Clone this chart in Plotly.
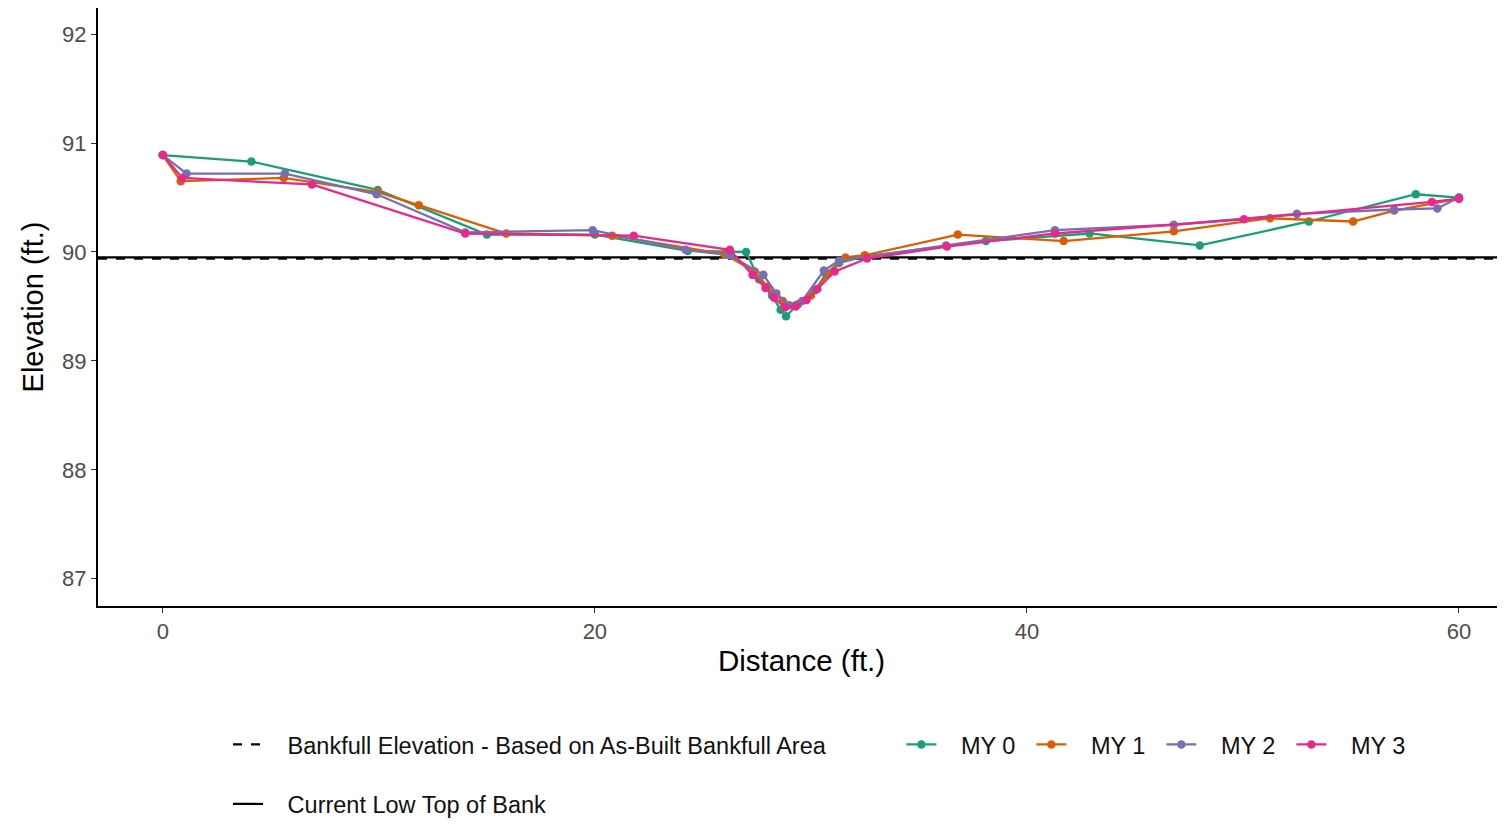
import plotly.graph_objects as go

# ---- data ----
my0_x = [0, 4.1, 9.95, 15.0, 20.0, 24.3, 27.0, 27.6, 28.2, 28.6, 28.85, 29.4, 30.2, 30.7, 31.3, 32.5, 38.1, 42.9, 48.0, 53.05, 58.0, 60.0]
my0_y = [90.89, 90.83, 90.57, 90.16, 90.16, 90.01, 90.0, 89.75, 89.6, 89.47, 89.41, 89.52, 89.65, 89.8, 89.9, 89.96, 90.1, 90.17, 90.06, 90.28, 90.53, 90.50]

my1_x = [0, 0.83, 5.6, 9.95, 11.85, 15.9, 20.8, 26.0, 27.4, 28.0, 28.7, 29.3, 30.0, 30.8, 31.6, 32.5, 36.8, 41.7, 46.8, 51.25, 55.1, 57.0, 60.0]
my1_y = [90.89, 90.65, 90.68, 90.55, 90.43, 90.17, 90.15, 89.98, 89.82, 89.68, 89.55, 89.51, 89.6, 89.8, 89.95, 89.97, 90.16, 90.10, 90.19, 90.31, 90.28, 90.38, 90.49]

my2_x = [0, 1.1, 5.65, 9.9, 14.0, 19.9, 24.2, 26.25, 27.8, 28.4, 29.0, 29.6, 30.6, 31.3, 36.25, 41.3, 46.8, 52.5, 57.0, 59.0, 60.0]
my2_y = [90.89, 90.72, 90.72, 90.53, 90.18, 90.20, 90.02, 89.97, 89.79, 89.62, 89.51, 89.55, 89.83, 89.92, 90.06, 90.20, 90.25, 90.35, 90.39, 90.40, 90.50]

my3_x = [0, 0.9, 6.9, 14.0, 21.8, 26.25, 27.3, 27.9, 28.3, 28.8, 29.3, 29.8, 30.3, 31.1, 32.6, 36.3, 41.3, 50.05, 58.75, 60.0]
my3_y = [90.89, 90.68, 90.62, 90.17, 90.15, 90.02, 89.79, 89.67, 89.58, 89.49, 89.50, 89.56, 89.66, 89.82, 89.94, 90.05, 90.17, 90.30, 90.46, 90.49]

bankfull_elev = [89.94, 89.94]
low_top_bank = [89.95, 89.95]
x_range = [-3.0, 62.13]
y_range = [86.75, 92.24]
x_ticks = [0, 20, 40, 60]
y_ticks = [87, 88, 89, 90, 91, 92]

series = [
    ("MY 0", my0_x, my0_y, "#1B9E77"),
    ("MY 1", my1_x, my1_y, "#D95F02"),
    ("MY 2", my2_x, my2_y, "#7570B3"),
    ("MY 3", my3_x, my3_y, "#E7298A"),
]

NB = "\u00a0\u00a0\u00a0"

fig = go.Figure()

fig.add_trace(go.Scatter(
    x=x_range, y=bankfull_elev, mode="lines",
    line=dict(color="black", width=2.2, dash="dash"),
    name=NB + "Bankfull Elevation - Based on As-Built Bankfull Area",
    legend="legend", legendgroup="a", showlegend=True, hoverinfo="skip"))
fig.add_trace(go.Scatter(
    x=x_range, y=low_top_bank, mode="lines",
    line=dict(color="black", width=2.2),
    name=NB + "Current Low Top of Bank",
    legend="legend", legendgroup="b", showlegend=True, hoverinfo="skip"))

for name, xs, ys, col in series:
    fig.add_trace(go.Scatter(
        x=xs, y=ys, mode="lines+markers", name=NB + name,
        line=dict(color=col, width=2.3),
        marker=dict(color=col, size=8.5),
        legend="legend2"))

font_family = "Liberation Sans, Arial, sans-serif"

fig.update_layout(
    width=1497, height=816,
    margin=dict(l=90, r=0, t=0, b=218, autoexpand=False),
    paper_bgcolor="white", plot_bgcolor="white",
    font=dict(family=font_family, color="#111111"),
    xaxis=dict(
        range=x_range, tickvals=x_ticks, showgrid=False, zeroline=False,
        showline=True, linecolor="black", linewidth=2,
        ticks="outside", ticklen=5, tickcolor="#333333", tickwidth=1.2,
        tickfont=dict(size=22, color="#4d4d4d", family=font_family),
        title=dict(text="Distance (ft.)", font=dict(size=29.5, color="black"), standoff=7),
    ),
    yaxis=dict(
        range=y_range, tickvals=y_ticks, showgrid=False, zeroline=False,
        showline=True, linecolor="black", linewidth=2,
        ticks="outside", ticklen=5, tickcolor="#333333", tickwidth=1.2,
        tickfont=dict(size=22, color="#4d4d4d", family=font_family),
        title=dict(text="Elevation (ft.)", font=dict(size=29, color="black"), standoff=10),
    ),
    legend=dict(
        orientation="v", x=0.0924, y=-0.195, xanchor="left", yanchor="top",
        font=dict(size=23.5, color="#111111"), tracegroupgap=26,
        bgcolor="rgba(0,0,0,0)", itemwidth=30),
    legend2=dict(
        orientation="h", x=0.571, y=-0.195, xanchor="left", yanchor="top",
        font=dict(size=23.5, color="#111111"),
        entrywidth=85, entrywidthmode="pixels",
        bgcolor="rgba(0,0,0,0)", itemwidth=30),
    showlegend=True,
)

fig.write_html("out.html")
